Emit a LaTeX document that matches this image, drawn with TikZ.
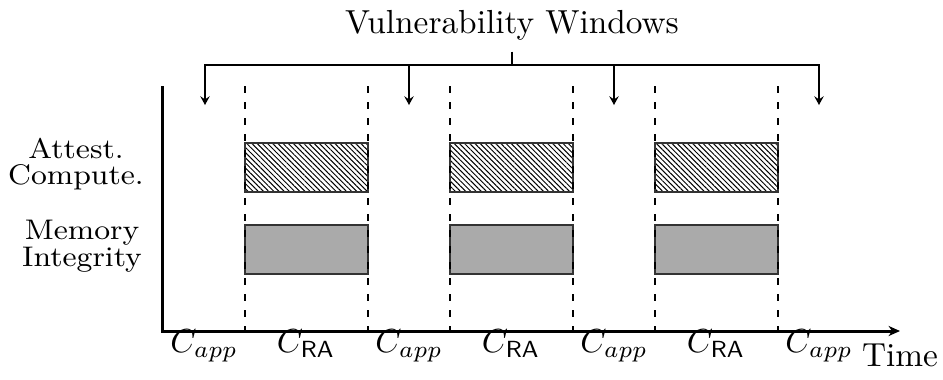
\documentclass[tikz,border=0pt]{standalone}
\usetikzlibrary{arrows.meta,patterns.meta}
\definecolor{fillgray}{RGB}{170,170,170}
\newcommand{\squeezed}[1]{\scalebox{1}[0.92]{#1}}
\begin{document}
\begin{tikzpicture}[x=0.3pt,y=-0.3pt,
  axis/.style={line width=0.9pt},
  guide/.style={line width=0.4pt, dash pattern=on 2.2pt off 2.6pt},
  bracket/.style={line width=0.6pt},
  tip/.style={-{Stealth[length=2.6pt,width=2.8pt,inset=0.9pt]}},
  hatchbox/.style={draw=black!80, line width=0.5pt,
    pattern={Lines[angle=-45,distance=1.1pt,line width=0.3pt]}},
  fillbox/.style={draw=black!80, line width=0.5pt, fill=fillgray},
  rowlabel/.style={font=\fontsize{9.25}{11}\selectfont, anchor=base, inner sep=0pt},
  seglabel/.style={anchor=base, inner sep=0pt}]
\useasboundingbox (0,0) rectangle (943,379);

% activity bars for the three attestation runs
\foreach \a/\b in {245/368, 450/573, 655/778} {
  \path[hatchbox] (\a,143) rectangle (\b,192);
  \path[fillbox]  (\a,225) rectangle (\b,274);
}

% phase boundaries
\foreach \x in {245,368,450,573,655,778}
  \draw[guide] (\x,86) -- (\x,340);

% axes
\coordinate (ytop) at (163,86);
\coordinate (tend) at (900,331);
\draw[axis, -{Stealth[length=3.4pt,width=3pt,inset=1pt]}] (ytop) |- (tend)
  node[below, inner sep=3.33pt] (time) {Time};

% row labels
\node[rowlabel] (att)  at (76,158) {\squeezed{Attest.}};
\node[rowlabel] (comp) at (76,184) {\squeezed{Compute.}};
\node[rowlabel] (mem)  at (82,239) {\squeezed{Memory}};
\node[rowlabel] (integ) at (82,266) {\squeezed{Integrity}};

% segment labels
\node[seglabel] (s1) at (204,352) {$C_{app}$};
\node[seglabel] (s2) at (306,352) {$C_{\mathsf{RA}}$};
\node[seglabel] (s3) at (409,352) {$C_{app}$};
\node[seglabel] (s4) at (511,352) {$C_{\mathsf{RA}}$};
\node[seglabel] (s5) at (614,352) {$C_{app}$};
\node[seglabel] (s6) at (716,352) {$C_{\mathsf{RA}}$};
\node[seglabel] (s7) at (819,352) {$C_{app}$};

% vulnerability windows
\node[anchor=base] (title) at (512,33) {Vulnerability Windows};
\coordinate (hub) at (512,65);
\coordinate (v1) at (205,105);
\coordinate (v2) at (409,105);
\coordinate (v3) at (614,105);
\coordinate (v4) at (819,105);
\coordinate (b2) at (409,65);
\coordinate (b3) at (614,65);
\draw[bracket] (title.south) -- (hub);
\draw[bracket, {Stealth[length=2.6pt,width=2.8pt,inset=0.9pt]}-{Stealth[length=2.6pt,width=2.8pt,inset=0.9pt]}]
  (v1) |- (hub) -| (v4);
\draw[bracket, tip] (b2) -- (v2);
\draw[bracket, tip] (b3) -- (v3);
\end{tikzpicture}
\end{document}
